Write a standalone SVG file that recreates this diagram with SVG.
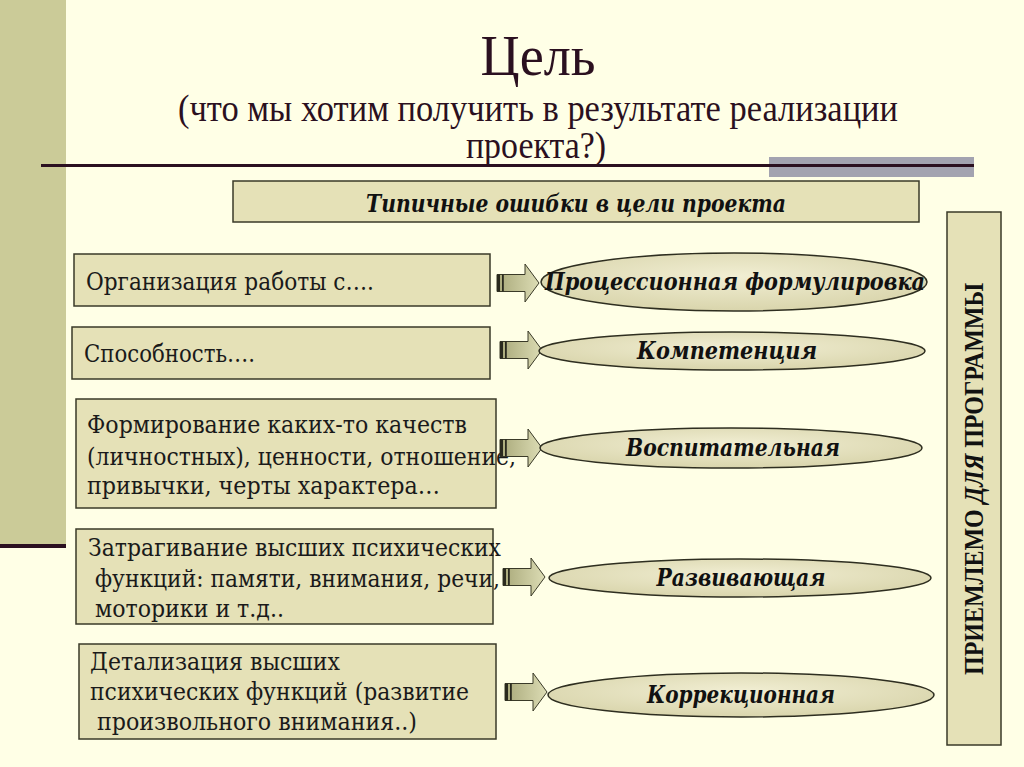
<svg xmlns="http://www.w3.org/2000/svg" width="1024" height="767" viewBox="0 0 1024 767">
<defs>
<style>
.title{font-family:"Liberation Serif","Times New Roman",serif;fill:#2B1020}
.box{fill:#E5E1B7;stroke:#3A3A28;stroke-width:1.5}
.txt{font-family:"DejaVu Serif","Liberation Serif",serif;font-size:24px;fill:#1A1A1A}
.etxt{font-family:"DejaVu Serif","Liberation Serif",serif;font-size:24px;font-weight:bold;font-style:italic;fill:#111}
.ell{fill:url(#eg);stroke:#2E2E20;stroke-width:1.5}
.arr{fill:url(#ag);stroke:#3A3A28;stroke-width:1}
.stripe{fill:#2A2A1E}
</style>
<linearGradient id="ag" x1="0" y1="0" x2="1" y2="0">
<stop offset="0" stop-color="#A9A97A"/>
<stop offset="1" stop-color="#DCDCB4"/>
</linearGradient>
<radialGradient id="eg" cx="0.5" cy="0.4" r="0.6">
<stop offset="0" stop-color="#F1EED3"/>
<stop offset="1" stop-color="#D9D5AC"/>
</radialGradient>
<g id="arrow">
<path class="arr" d="M0,-8.5 H28 V-19 L42,0 L28,19 V8.5 H0 Z"/>
<rect class="stripe" x="0" y="-8.5" width="3" height="17"/>
<rect class="stripe" x="5" y="-8.5" width="1.8" height="17"/>
</g>
</defs>
<rect x="0" y="0" width="1024" height="767" fill="#FFFFE6"/>
<rect x="0" y="0" width="66" height="546" fill="#CBCB98"/>
<rect x="0" y="544" width="66" height="4" fill="#2B1020"/>
<rect x="769" y="157" width="205" height="20" fill="#A3A3B0"/>
<rect x="41" y="164" width="933" height="3" fill="#2B1020"/>

<g id="title">
<text class="title" x="538" y="75" font-size="58" text-anchor="middle" textLength="115" lengthAdjust="spacingAndGlyphs">Цель</text>
<text class="title" x="538" y="121" font-size="37" text-anchor="middle" textLength="720" lengthAdjust="spacingAndGlyphs">(что мы хотим получить в результате реализации</text>
<text class="title" x="536" y="158" font-size="37" text-anchor="middle" textLength="140" lengthAdjust="spacingAndGlyphs">проекта?)</text>
</g>

<g id="header">
<rect class="box" x="233" y="181" width="686" height="41"/>
<text class="etxt" x="576" y="212" text-anchor="middle" font-size="23" textLength="420" lengthAdjust="spacingAndGlyphs">Типичные ошибки в цели проекта</text>
</g>

<g id="box1">
<rect class="box" x="74" y="254" width="416" height="52"/>
<text class="txt" x="86" y="290" textLength="288" lengthAdjust="spacingAndGlyphs">Организация работы с….</text>
</g>
<g id="box2">
<rect class="box" x="72" y="327" width="418" height="52"/>
<text class="txt" x="84" y="362" textLength="171" lengthAdjust="spacingAndGlyphs">Способность….</text>
</g>
<g id="box3">
<rect class="box" x="76" y="399" width="420" height="109"/>
<text class="txt" x="87" y="433" textLength="380" lengthAdjust="spacingAndGlyphs">Формирование каких-то качеств</text>
<text class="txt" x="87" y="465" textLength="429" lengthAdjust="spacingAndGlyphs">(личностных), ценности, отношение,</text>
<text class="txt" x="87" y="494" textLength="353" lengthAdjust="spacingAndGlyphs">привычки, черты  характера…</text>
</g>
<g id="box4">
<rect class="box" x="76" y="529" width="417" height="95"/>
<text class="txt" x="88" y="556" textLength="413" lengthAdjust="spacingAndGlyphs">Затрагивание высших психических</text>
<text class="txt" x="95" y="587" textLength="405" lengthAdjust="spacingAndGlyphs">функций: памяти, внимания, речи,</text>
<text class="txt" x="95" y="617" textLength="189" lengthAdjust="spacingAndGlyphs">моторики и т.д..</text>
</g>
<g id="box5">
<rect class="box" x="79" y="644" width="417" height="95"/>
<text class="txt" x="90" y="670" textLength="250" lengthAdjust="spacingAndGlyphs">Детализация высших</text>
<text class="txt" x="90" y="700" textLength="379" lengthAdjust="spacingAndGlyphs">психических функций (развитие</text>
<text class="txt" x="97" y="730" textLength="320" lengthAdjust="spacingAndGlyphs">произвольного внимания..)</text>
</g>

<g id="connectors">
<use href="#arrow" x="497" y="283"/>
<use href="#arrow" x="500" y="350"/>
<use href="#arrow" x="500" y="448"/>
<use href="#arrow" x="503" y="577"/>
<use href="#arrow" x="505" y="692"/>
</g>

<g id="e1">
<ellipse class="ell" cx="734" cy="282" rx="193" ry="29"/>
<text class="etxt" x="735" y="290" text-anchor="middle" font-size="25" textLength="380" lengthAdjust="spacingAndGlyphs">Процессионная формулировка</text>
</g>
<g id="e2">
<ellipse class="ell" cx="732" cy="351" rx="193" ry="19"/>
<text class="etxt" x="727" y="359" text-anchor="middle" textLength="180" lengthAdjust="spacingAndGlyphs">Компетенция</text>
</g>
<g id="e3">
<ellipse class="ell" cx="731" cy="448" rx="191" ry="20"/>
<text class="etxt" x="733" y="456" text-anchor="middle" textLength="214" lengthAdjust="spacingAndGlyphs">Воспитательная</text>
</g>
<g id="e4">
<ellipse class="ell" cx="740" cy="578" rx="191" ry="19"/>
<text class="etxt" x="741" y="586" text-anchor="middle" textLength="169" lengthAdjust="spacingAndGlyphs">Развивающая</text>
</g>
<g id="e5">
<ellipse class="ell" cx="741" cy="695" rx="193" ry="22"/>
<text class="etxt" x="741" y="703" text-anchor="middle" textLength="188" lengthAdjust="spacingAndGlyphs">Коррекционная</text>
</g>

<g id="side">
<rect class="box" x="947" y="212" width="54" height="533"/>
<text transform="translate(983,479) rotate(-90)" x="0" y="0" text-anchor="middle" font-family="Liberation Serif, Times New Roman, serif" font-size="27" font-weight="bold" fill="#111" textLength="392" lengthAdjust="spacingAndGlyphs">ПРИЕМЛЕМО <tspan font-style="italic">ДЛЯ</tspan> ПРОГРАММЫ</text>
</g>
</svg>
